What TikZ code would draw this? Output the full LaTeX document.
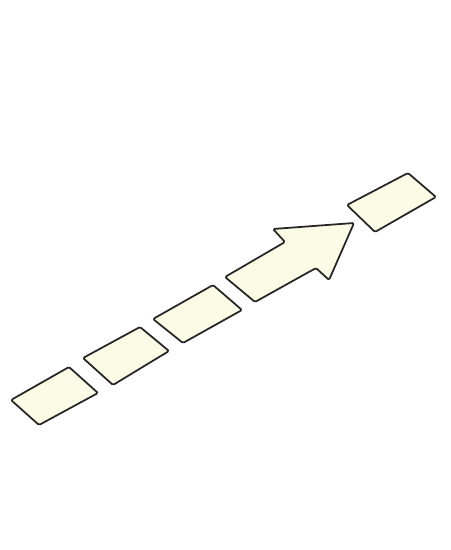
\documentclass[tikz,border=0pt]{standalone}
\usepackage[dvipsnames]{xcolor}
\usepackage{tikz}
\definecolor{tilefill}{RGB}{252,252,230}
\begin{document}
\begin{tikzpicture}[x=0.02cm, y=-0.02cm, tile/.style={draw=black!85, fill=tilefill, line width=1pt, rounded corners=0.8pt, line join=round}]
        \useasboundingbox (0,0) rectangle (450,550);
        \foreach \lx/\ly/\tx/\ty/\rx/\ry/\bx/\by in {11/400/69/367/98/393/39/425, 83/358/140/327/169/351/113/385, 153/319/213/285/242/310/183/343, 347/205/408/173/436/197/375/232}
        { \draw[tile] (\lx,\ly) -- (\tx,\ty) -- (\rx,\ry) -- (\bx,\by) -- cycle;
        }
        \draw[tile] (225,277) -- (285,242) -- (273,229) -- (354,223) -- (329,280) -- (316,268) -- (255,302) -- cycle;
        \end{tikzpicture}
\end{document}
